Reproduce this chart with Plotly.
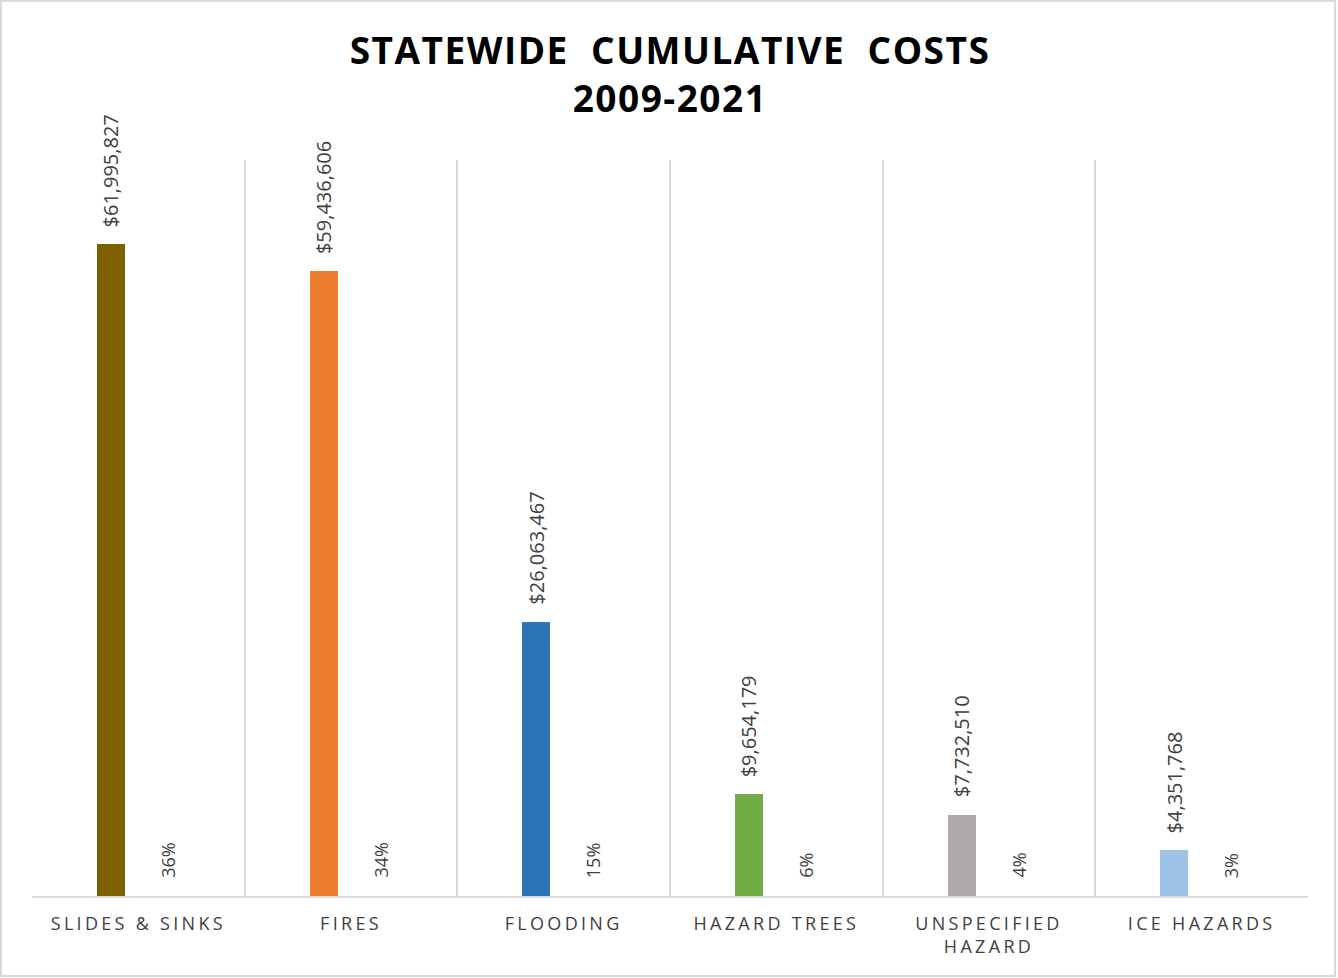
import plotly.graph_objects as go

categories = ["SLIDES & SINKS", "FIRES", "FLOODING", "HAZARD TREES", "UNSPECIFIED<br>HAZARD", "ICE HAZARDS"]
costs = [61995827, 59436606, 26063467, 9654179, 7732510, 4351768]
percents = [36, 34, 15, 6, 4, 3]
colors = ["#7f6000", "#ed7d31", "#2e75b6", "#70ad47", "#aeaaaa", "#9dc3e6"]

W, H = 1338, 978
ML, MR, MT, MB = 32, 30, 160, 82
PW, PH = W - ML - MR, H - MT - MB

fig = go.Figure()
fig.add_trace(go.Bar(
    x=categories, y=costs, marker=dict(color=colors, line=dict(width=0)),
    width=0.132, offset=-0.195, hoverinfo="x+y", showlegend=False,
))

dollar_font = dict(family="Open Sans", size=20, color="#404040")
pct_font = dict(family="Open Sans", size=18, color="#404040")
for c, v, p in zip(categories, costs, percents):
    fig.add_annotation(x=c, y=v, xref="x", yref="y", text=f"${v:,}", textangle=-90,
                       showarrow=False, yanchor="bottom", xanchor="center",
                       xshift=-27.5, yshift=15, font=dollar_font)
    fig.add_annotation(x=c, y=0, xref="x", yref="y", text=f"{p}%", textangle=-90,
                       showarrow=False, yanchor="bottom", xanchor="center",
                       xshift=29, yshift=16, font=pct_font)

# outer chart border
fig.add_shape(type="rect", xref="paper", yref="paper",
              x0=(1 - ML) / PW, x1=(1335 - ML) / PW,
              y0=(H - 976 - MB) / PH, y1=(H - 1 - MB) / PH,
              line=dict(color="#d9d9d9", width=2), fillcolor="rgba(0,0,0,0)", layer="below")

fig.update_layout(
    width=W, height=H,
    margin=dict(l=ML, r=MR, t=MT, b=MB, pad=0),
    paper_bgcolor="white", plot_bgcolor="white",
    title=dict(text="STATEWIDE  CUMULATIVE  COSTS<br>2009-2021", x=0.5, xanchor="center",
               xref="paper", y=1 - 64 / H, yref="container", yanchor="top",
               font=dict(family="Open Sans", size=37, color="#000000", weight="bold")),
    xaxis=dict(type="category", tickson="boundaries", showgrid=True, gridcolor="#d9d9d9",
               gridwidth=2, showline=True, linecolor="#d9d9d9", linewidth=2, ticks="",
               tickfont=dict(family="Open Sans", size=18, color="#404040"),
               ticklabelstandoff=10, fixedrange=True),
    yaxis=dict(range=[0, 70000000], visible=False, showgrid=False, zeroline=False, fixedrange=True),
    bargap=0,
)

css = """
var s=document.createElement('style');
s.textContent='.xtick text{letter-spacing:3.3px;} .gtitle{letter-spacing:1.5px;}';
document.head.appendChild(s);
"""
fig.write_html("out.html", post_script=css)
